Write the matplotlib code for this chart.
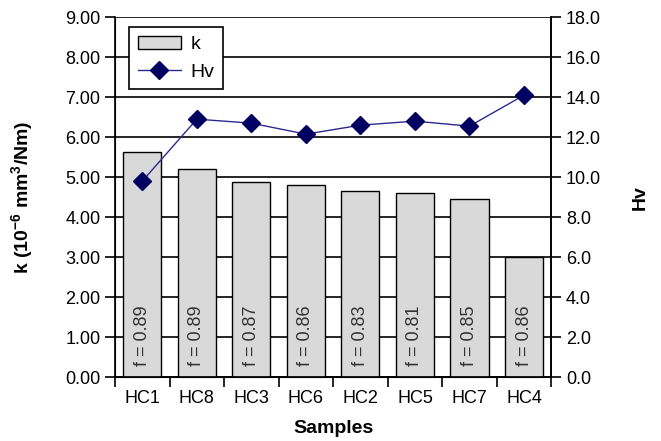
import matplotlib.pyplot as plt
import numpy as np

plt.rcParams['font.family'] = ['Liberation Sans', 'DejaVu Sans']
plt.rcParams['mathtext.default'] = 'regular'

samples = ['HC1', 'HC8', 'HC3', 'HC6', 'HC2', 'HC5', 'HC7', 'HC4']
k_vals = [5.62, 5.20, 4.87, 4.80, 4.65, 4.60, 4.45, 3.00]
hv_vals = [9.8, 12.9, 12.7, 12.15, 12.6, 12.8, 12.55, 14.1]
f_vals = ['0.89', '0.89', '0.87', '0.86', '0.83', '0.81', '0.85', '0.86']

fig = plt.figure(figsize=(6.61, 4.41), dpi=100)
ax = fig.add_axes([0.174, 0.145, 0.66, 0.816])
x = np.arange(len(samples))

ax.set_axisbelow(True)
ax.yaxis.grid(True, color='black', linewidth=1.2)
bars = ax.bar(x, k_vals, width=0.7, color='#d9d9d9', edgecolor='black',
              linewidth=1.0, label='k', zorder=2)
for xi, f in zip(x, f_vals):
    ax.text(xi, 0.28, f'f = {f}', rotation=90, ha='center', va='bottom',
            fontsize=13, color='#333333', fontstretch='condensed', zorder=3)

ax.set_xlim(-0.5, len(samples) - 0.5)
ax.set_ylim(0, 9)
ax.set_yticks(np.arange(0, 9.1, 1))
ax.set_yticklabels([f'{v:.2f}' for v in np.arange(0, 9.1, 1)])
ax.set_xticks(x)
ax.set_xticklabels(samples)
ax.tick_params(axis='x', which='major', length=0, pad=9, labelsize=13)
ax.set_xticks(np.arange(-0.5, len(samples), 1), minor=True)
ax.tick_params(axis='x', which='minor', length=7, width=1.2, direction='out')
ax.tick_params(axis='y', length=7, width=1.2, direction='out', labelsize=13)
ax.spines['top'].set_visible(False)
for s in ['left', 'right', 'bottom']:
    ax.spines[s].set_linewidth(1.2)
ax.set_ylabel('k (10$^{-6}$ mm$^3$/Nm)', fontsize=14, fontweight='bold', labelpad=22)
ax.set_xlabel('Samples', fontsize=14, fontweight='bold', labelpad=10)

ax2 = ax.twinx()
line, = ax2.plot(x, hv_vals, color='#2b2b8f', linewidth=1.0, marker='D',
                 markersize=9, markerfacecolor='#000060', markeredgecolor='#000060',
                 label='Hv', zorder=4)
ax2.set_ylim(0, 18)
ax2.set_yticks(np.arange(0, 18.1, 2))
ax2.set_yticklabels([f'{v:.1f}' for v in np.arange(0, 18.1, 2)])
ax2.tick_params(axis='y', length=7, width=1.2, direction='out', labelsize=13)
ax2.spines['top'].set_visible(False)
ax2.spines['right'].set_linewidth(1.2)
ax2.set_ylabel('Hv', fontsize=14, fontweight='bold', labelpad=22)

leg = ax2.legend([bars, line], ['k', 'Hv'], loc='upper left',
                 bbox_to_anchor=(0.01, 1.0), fontsize=14, frameon=True,
                 fancybox=False, edgecolor='black', framealpha=1,
                 handlelength=2.2, borderpad=0.45, labelspacing=0.5,
                 handletextpad=0.5)
leg.get_frame().set_linewidth(1.2)

fig.savefig('out.png', dpi=100)
